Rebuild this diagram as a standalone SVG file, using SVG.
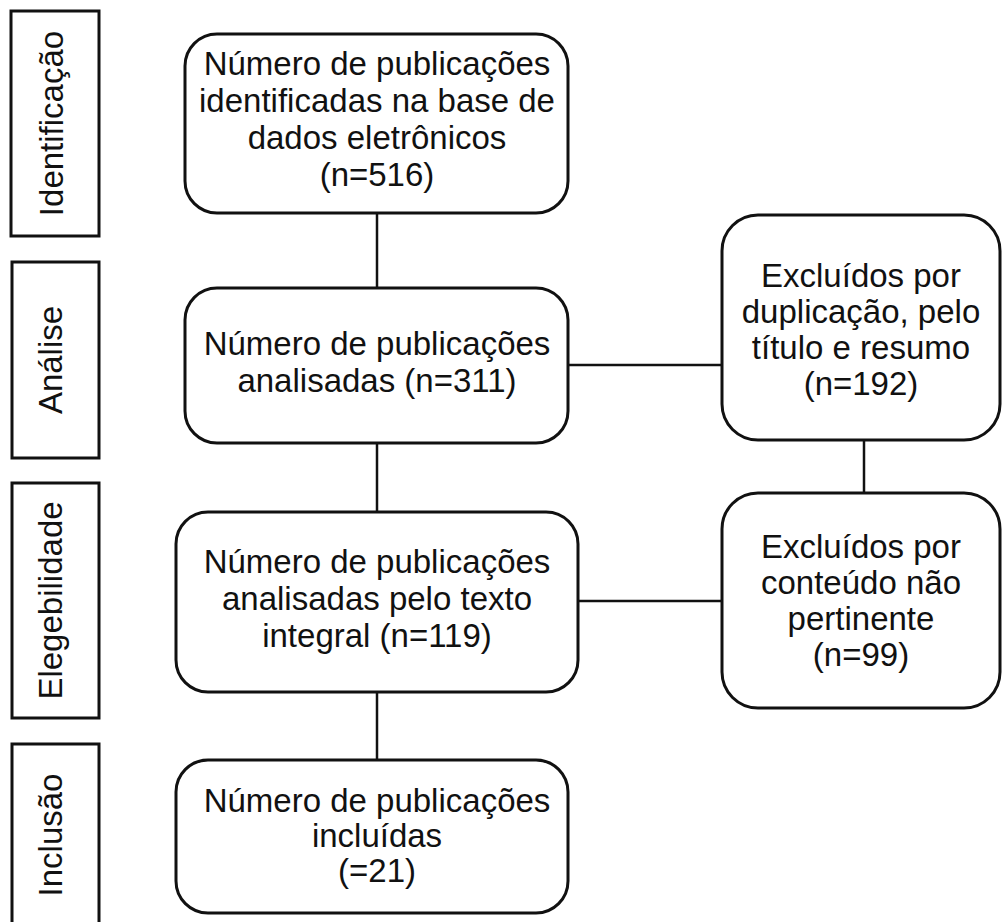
<svg xmlns="http://www.w3.org/2000/svg" width="1002" height="922" viewBox="0 0 1002 922">
<style>
.stage{fill:#fff;stroke:#111;stroke-width:3}
.node{fill:#fff;stroke:#111;stroke-width:3}
.conn{stroke:#111;stroke-width:2.5;fill:none}
text{font-family:"Liberation Sans",Arial,sans-serif;font-size:33px;fill:#111;text-anchor:middle}
</style>
<rect width="1002" height="922" fill="#fff"/>
<g id="connectors">
<line class="conn" x1="377" y1="213" x2="377" y2="288"/>
<line class="conn" x1="377" y1="443" x2="377" y2="512"/>
<line class="conn" x1="377" y1="692" x2="377" y2="760"/>
<line class="conn" x1="568" y1="365" x2="722" y2="365"/>
<line class="conn" x1="578" y1="601" x2="722" y2="601"/>
<line class="conn" x1="864" y1="440" x2="864" y2="493"/>
</g>
<g id="stage-identificacao">
<rect class="stage" x="11" y="11" width="88" height="225"/>
<text transform="translate(63,123.5) rotate(-90)">Identificação</text>
</g>
<g id="stage-analise">
<rect class="stage" x="12" y="262" width="87" height="196"/>
<text transform="translate(62,360) rotate(-90)">Análise</text>
</g>
<g id="stage-elegebilidade">
<rect class="stage" x="12" y="483" width="87" height="235"/>
<text transform="translate(62,600.5) rotate(-90)">Elegebilidade</text>
</g>
<g id="stage-inclusao">
<rect class="stage" x="12" y="744" width="87" height="190"/>
<text transform="translate(62,835) rotate(-90)">Inclusão</text>
</g>
<g id="node-identificadas">
<rect class="node" x="185" y="34" width="383" height="179" rx="32"/>
<text x="377" y="75">Número de publicações</text>
<text x="377" y="112">identificadas na base de</text>
<text x="377" y="149">dados eletrônicos</text>
<text x="377" y="186">(n=516)</text>
</g>
<g id="node-analisadas">
<rect class="node" x="185" y="288" width="383" height="155" rx="32"/>
<text x="377" y="355">Número de publicações</text>
<text x="377" y="392">analisadas (n=311)</text>
</g>
<g id="node-excluidos-duplicacao">
<rect class="node" x="722" y="215" width="278" height="225" rx="36"/>
<text x="861" y="287">Excluídos por</text>
<text x="861" y="323">duplicação, pelo</text>
<text x="861" y="359">título e resumo</text>
<text x="861" y="395">(n=192)</text>
</g>
<g id="node-texto-integral">
<rect class="node" x="176" y="512" width="402" height="180" rx="32"/>
<text x="377" y="573">Número de publicações</text>
<text x="377" y="610">analisadas pelo texto</text>
<text x="377" y="647">integral (n=119)</text>
</g>
<g id="node-excluidos-conteudo">
<rect class="node" x="722" y="493" width="278" height="215" rx="36"/>
<text x="861" y="558">Excluídos por</text>
<text x="861" y="594">conteúdo não</text>
<text x="861" y="630">pertinente</text>
<text x="861" y="666">(n=99)</text>
</g>
<g id="node-incluidas">
<rect class="node" x="176" y="760" width="392" height="153" rx="32"/>
<text x="377" y="812">Número de publicações</text>
<text x="377" y="847">incluídas</text>
<text x="377" y="882">(=21)</text>
</g>
</svg>
